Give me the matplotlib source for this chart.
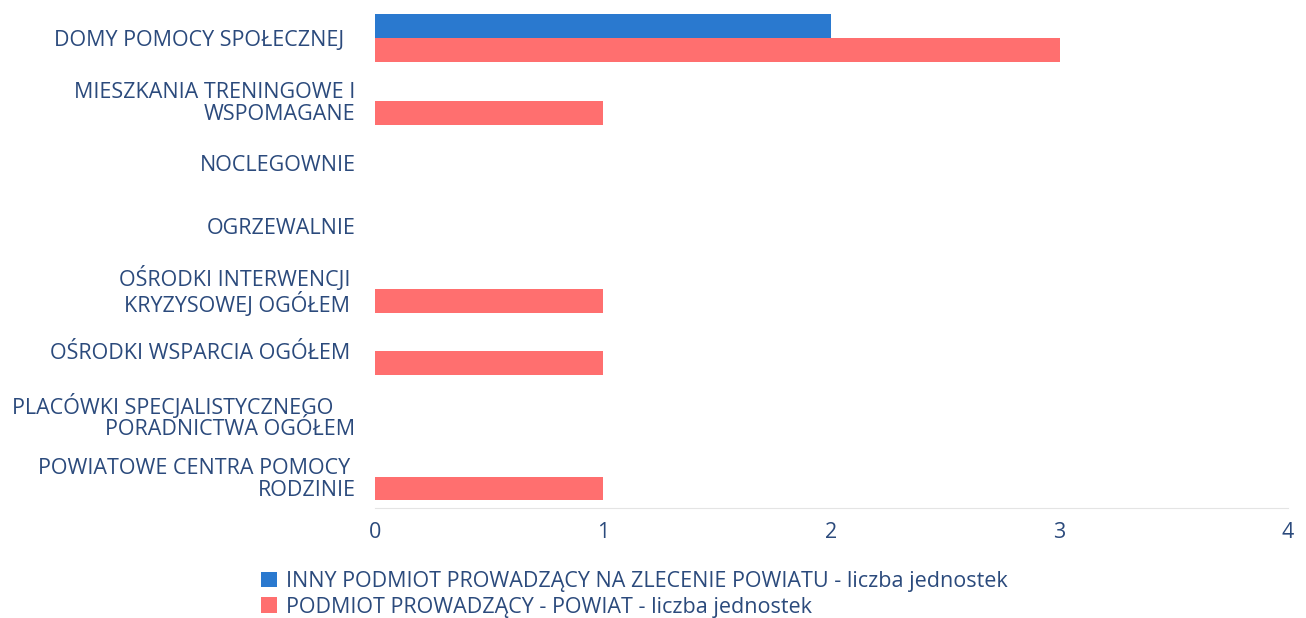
import matplotlib
matplotlib.use('Agg')
from matplotlib import pyplot as plt
import numpy as np

categories = ["DOMY POMOCY SPOŁECZNEJ  ",
              "MIESZKANIA TRENINGOWE I\nWSPOMAGANE",
              "NOCLEGOWNIE",
              "OGRZEWALNIE",
              "OŚRODKI INTERWENCJI \nKRYZYSOWEJ OGÓŁEM ",
              "OŚRODKI WSPARCIA OGÓŁEM ",
              "PLACÓWKI SPECJALISTYCZNEGO    \nPORADNICTWA OGÓŁEM",
              "POWIATOWE CENTRA POMOCY \nRODZINIE"]
inny = [2, 0, 0, 0, 0, 0, 0, 0]
powiat = [3, 1, 0, 0, 1, 1, 0, 1]
labels = ["INNY PODMIOT PROWADZĄCY NA ZLECENIE POWIATU - liczba jednostek",
          "PODMIOT PROWADZĄCY - POWIAT - liczba jednostek"]

txt = '#2b4a7c'
blue = '#2a79cf'
red = '#ff6f6f'
plt.rcParams['font.family'] = ['Open Sans', 'DejaVu Sans']

fig = plt.figure(figsize=(13.06, 6.18), dpi=100)
ax = fig.add_axes([0.2871, 0.178, 0.699, 0.811])

y = np.arange(len(categories))
h = 0.38
ax.barh(y - h/2, inny, height=h, color=blue, label=labels[0])
ax.barh(y + h/2, powiat, height=h, color=red, label=labels[1])

ax.set_ylim(len(categories) - 0.5, -0.5)
ax.set_xlim(0, 4)
ax.set_yticks(y)
ax.set_yticklabels(categories, fontsize=15.5, color=txt, ha='right', linespacing=1.05)
ax.set_xticks([0, 1, 2, 3, 4])
ax.tick_params(axis='x', labelsize=15.5, labelcolor=txt, length=0, pad=10)
ax.tick_params(axis='y', length=0, pad=14)
for s in ['top', 'right', 'left']:
    ax.spines[s].set_visible(False)
ax.spines['bottom'].set_color('#e4e4e4')

leg = fig.legend(loc='upper left', frameon=False,
                 fontsize=15.5, handlelength=0.75, handleheight=0.75, handletextpad=0.4,
                 labelspacing=0.22, borderaxespad=0, borderpad=0)
leg.set_bbox_to_anchor((0.2, 0.076), transform=fig.transFigure)
for t in leg.get_texts():
    t.set_color(txt)

plt.savefig('out.png', dpi=100)
